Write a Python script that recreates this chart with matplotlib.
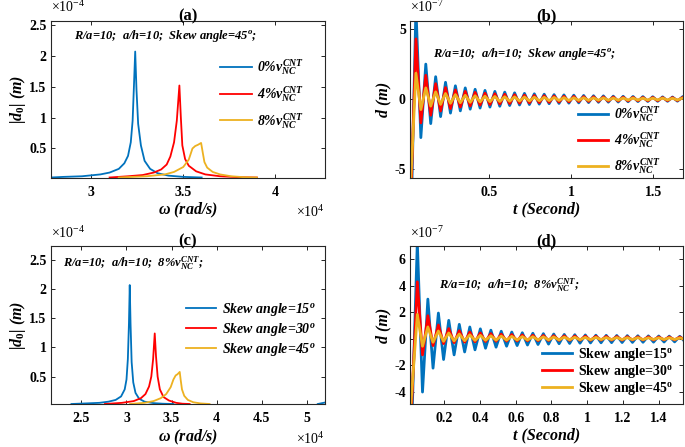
import matplotlib
matplotlib.use("Agg")
import matplotlib.pyplot as plt

plt.rcParams["font.family"] = ["Liberation Serif", "DejaVu Serif"]
plt.rcParams["font.weight"] = "bold"
plt.rcParams["mathtext.fontset"] = "custom"
plt.rcParams["mathtext.rm"] = "Liberation Serif:bold"
plt.rcParams["mathtext.it"] = "Liberation Serif:italic:bold"
plt.rcParams["mathtext.bf"] = "Liberation Serif:bold"

BLUE = "#0072BD"
RED = "#FF0000"
YELLOW = "#EDB120"

# ---- (a) frequency response, CNT fraction (omega in 1e4 rad/s, |d0| in 1e-4 m) ----
w_a0 = [2.78, 2.85, 2.95, 3.05, 3.1, 3.15, 3.18, 3.2, 3.215, 3.225, 3.232, 3.239,
        3.246, 3.255, 3.27, 3.29, 3.32, 3.36, 3.42, 3.5, 3.6]
d_a0 = [0.03, 0.04, 0.05, 0.08, 0.11, 0.17, 0.26, 0.38, 0.6, 0.95, 1.5, 2.07,
        1.45, 0.9, 0.55, 0.3, 0.17, 0.1, 0.06, 0.04, 0.03]
w_a4 = [3.1, 3.2, 3.28, 3.34, 3.38, 3.41, 3.43, 3.45, 3.465, 3.479, 3.487, 3.495,
        3.51, 3.53, 3.57, 3.62, 3.7, 3.8, 3.9]
d_a4 = [0.03, 0.05, 0.07, 0.11, 0.16, 0.24, 0.37, 0.6, 0.95, 1.52, 1.0, 0.55,
        0.33, 0.22, 0.13, 0.08, 0.05, 0.035, 0.03]
w_a8 = [3.15, 3.3, 3.4, 3.45, 3.5, 3.53, 3.55, 3.565, 3.58, 3.597, 3.605, 3.615,
        3.63, 3.66, 3.7, 3.76, 3.83, 3.9]
d_a8 = [0.03, 0.05, 0.08, 0.12, 0.2, 0.32, 0.5, 0.54, 0.56, 0.59, 0.45, 0.28,
        0.19, 0.12, 0.08, 0.05, 0.035, 0.03]

# ---- (c) frequency response, skew angle ----
w_c15 = [2.39, 2.55, 2.7, 2.8, 2.88, 2.94, 2.98, 3.0, 3.015, 3.027, 3.036, 3.045,
         3.057, 3.075, 3.1, 3.14, 3.2, 3.3, 3.4, 3.52]
d_c15 = [0.03, 0.04, 0.05, 0.07, 0.1, 0.16, 0.28, 0.45, 0.8, 1.4, 2.07, 1.4,
         0.75, 0.4, 0.22, 0.12, 0.07, 0.045, 0.035, 0.03]
w_c15_hi = [5.12, 5.2]
d_c15_hi = [0.03, 0.055]
w_c30 = [2.76, 2.95, 3.08, 3.16, 3.21, 3.25, 3.275, 3.295, 3.313, 3.327, 3.345,
         3.37, 3.41, 3.47, 3.55, 3.62, 3.7]
d_c30 = [0.03, 0.05, 0.08, 0.13, 0.2, 0.33, 0.5, 0.8, 1.24, 0.85, 0.5,
         0.28, 0.15, 0.09, 0.05, 0.035, 0.03]
w_c45 = [3.04, 3.2, 3.3, 3.38, 3.44, 3.49, 3.52, 3.545, 3.565, 3.59, 3.6, 3.615,
         3.64, 3.68, 3.74, 3.82, 3.92]
d_c45 = [0.03, 0.05, 0.08, 0.13, 0.2, 0.32, 0.45, 0.52, 0.54, 0.58, 0.45, 0.28,
         0.17, 0.1, 0.06, 0.04, 0.03]

# ---- (b) time history, CNT fraction (d in 1e-7 m): start, peaks, troughs ----
t_b_start = 0.02
t_b_peak = [0.056, 0.116, 0.176, 0.236, 0.296, 0.356, 0.416, 0.476, 0.536, 0.596,
            0.656, 0.716, 0.776, 0.836, 0.896, 0.956, 1.016, 1.076, 1.136, 1.196,
            1.256, 1.316, 1.376, 1.436, 1.496, 1.556, 1.616, 1.676]
t_b_trough = [0.086, 0.146, 0.206, 0.266, 0.326, 0.386, 0.446, 0.506, 0.566, 0.626,
              0.686, 0.746, 0.806, 0.866, 0.926, 0.986, 1.046, 1.106, 1.166, 1.226,
              1.286, 1.346, 1.406, 1.466, 1.526, 1.586, 1.646]
b0_start = -12.0
b0_peak = [6.5, 2.5, 1.6, 1.2, 0.95, 0.8, 0.7, 0.62, 0.55, 0.5, 0.45, 0.41, 0.38, 0.35,
           0.32, 0.3, 0.28, 0.26, 0.24, 0.23, 0.21, 0.2, 0.19, 0.18, 0.17, 0.16, 0.15, 0.15]
b0_trough = [-2.75, -1.75, -1.25, -1.0, -0.84, -0.72, -0.64, -0.57, -0.51, -0.46, -0.42,
             -0.39, -0.36, -0.33, -0.31, -0.29, -0.27, -0.25, -0.23, -0.22, -0.21, -0.19,
             -0.18, -0.17, -0.16, -0.16, -0.15]
b4_start = -9.0
b4_peak = [4.3, 1.7, 1.1, 0.82, 0.65, 0.55, 0.48, 0.42, 0.38, 0.34, 0.31, 0.28, 0.26, 0.24,
           0.22, 0.2, 0.19, 0.18, 0.17, 0.16, 0.15, 0.14, 0.13, 0.12, 0.12, 0.11, 0.11, 0.1]
b4_trough = [-1.7, -1.15, -0.85, -0.68, -0.57, -0.49, -0.43, -0.39, -0.35, -0.32, -0.29,
             -0.27, -0.25, -0.23, -0.21, -0.2, -0.18, -0.17, -0.16, -0.15, -0.14, -0.13,
             -0.12, -0.12, -0.11, -0.11, -0.1]
b8_start = -7.0
b8_peak = [1.85, 0.8, 0.52, 0.4, 0.32, 0.27, 0.24, 0.21, 0.19, 0.17, 0.16, 0.15, 0.14, 0.13,
           0.12, 0.11, 0.1, 0.1, 0.09, 0.09, 0.08, 0.08, 0.08, 0.07, 0.07, 0.07, 0.06, 0.06]
b8_trough = [-0.75, -0.5, -0.38, -0.3, -0.26, -0.23, -0.2, -0.18, -0.17, -0.15, -0.14,
             -0.13, -0.12, -0.11, -0.1, -0.1, -0.09, -0.09, -0.08, -0.08, -0.08, -0.07,
             -0.07, -0.07, -0.06, -0.06, -0.06]

# ---- (d) time history, skew angle ----
t_d_start = 0.01
t_d_peak = [0.049, 0.108, 0.167, 0.225, 0.284, 0.343, 0.402, 0.461, 0.519, 0.578,
            0.637, 0.696, 0.755, 0.813, 0.872, 0.931, 0.990, 1.049, 1.107, 1.166,
            1.225, 1.284, 1.343, 1.401, 1.460, 1.519, 1.578]
t_d_trough = [0.078, 0.137, 0.196, 0.255, 0.314, 0.372, 0.431, 0.490, 0.549, 0.608,
              0.666, 0.725, 0.784, 0.843, 0.902, 0.960, 1.019, 1.078, 1.137, 1.196,
              1.254, 1.313, 1.372, 1.431, 1.490, 1.548]
d15_start = -10.0
d15_peak = [7.3, 3.0, 1.95, 1.4, 1.1, 0.9, 0.76, 0.66, 0.58, 0.52, 0.47, 0.43, 0.4, 0.37,
            0.34, 0.32, 0.3, 0.28, 0.27, 0.26, 0.25, 0.24, 0.23, 0.22, 0.21, 0.2, 0.2]
d15_trough = [-4.0, -2.2, -1.55, -1.2, -0.98, -0.82, -0.7, -0.62, -0.55, -0.5, -0.46,
              -0.42, -0.39, -0.36, -0.34, -0.32, -0.3, -0.29, -0.28, -0.27, -0.26,
              -0.25, -0.24, -0.23, -0.22, -0.21]
d30_start = -7.0
d30_peak = [4.3, 1.75, 1.05, 0.78, 0.62, 0.52, 0.45, 0.4, 0.36, 0.33, 0.3, 0.28, 0.26, 0.24,
            0.23, 0.22, 0.21, 0.2, 0.19, 0.18, 0.17, 0.16, 0.16, 0.15, 0.15, 0.14, 0.14]
d30_trough = [-1.2, -0.5, -0.35, -0.28, -0.24, -0.21, -0.19, -0.17, -0.16, -0.15, -0.14,
              -0.13, -0.12, -0.11, -0.11, -0.1, -0.1, -0.09, -0.09, -0.09, -0.08, -0.08,
              -0.08, -0.07, -0.07, -0.07]
d45_start = -5.5
d45_peak = [1.85, 0.9, 0.6, 0.45, 0.37, 0.31, 0.27, 0.24, 0.22, 0.2, 0.18, 0.17, 0.16, 0.15,
            0.14, 0.13, 0.12, 0.12, 0.11, 0.11, 0.1, 0.1, 0.09, 0.09, 0.09, 0.08, 0.08]
d45_trough = [-0.55, -0.25, -0.18, -0.15, -0.13, -0.11, -0.1, -0.09, -0.09, -0.08, -0.08,
              -0.07, -0.07, -0.07, -0.06, -0.06, -0.06, -0.05, -0.05, -0.05, -0.05, -0.05,
              -0.04, -0.04, -0.04, -0.04]

cnt_labels = ["0%$v_{NC}^{CNT}$", "4%$v_{NC}^{CNT}$", "8%$v_{NC}^{CNT}$"]
skew_labels = ["15", "30", "45"]


def zigzag(t0, v0, tp, vp, tt, vt):
    # join start value, then alternate peak / trough points
    t, v = [t0], [v0]
    for i in range(len(tp)):
        t.append(tp[i])
        v.append(vp[i])
        if i < len(tt):
            t.append(tt[i])
            v.append(vt[i])
    return t, v


def style_axes(ax, xlim, ylim, xticks, yticks, xticklabels, yticklabels):
    ax.set_xlim(*xlim)
    ax.set_ylim(*ylim)
    ax.set_xticks(xticks)
    ax.set_xticklabels(xticklabels)
    ax.set_yticks(yticks)
    ax.set_yticklabels(yticklabels)
    ax.tick_params(direction="in", top=True, right=True, length=3, width=0.6,
                   labelsize=10)
    ax.tick_params(axis="x", pad=6)
    ax.tick_params(axis="y", pad=3)
    for s in ax.spines.values():
        s.set_linewidth(0.8)
        s.set_color("#262626")


fig = plt.figure(figsize=(6.85, 4.47), dpi=100)
W, H = 685.0, 447.0


def add_ax(l, r, t, b):
    return fig.add_axes([l / W, 1 - b / H, (r - l) / W, (b - t) / H])


ax_a = add_ax(50.7, 325, 20.7, 177.5)
ax_b = add_ax(410, 683, 20.7, 177.5)
ax_c = add_ax(50.7, 325, 246, 404)
ax_d = add_ax(410, 683, 246, 404)

lbl_font = dict(fontsize=11.5, fontstyle="italic", fontweight="bold")
ann_font = dict(fontsize=9, fontstyle="italic", fontweight="bold")
exp_font = dict(fontsize=10, fontweight="normal")
leg_kw = dict(loc="upper left", frameon=False, borderpad=0, borderaxespad=0,
              handletextpad=0.4)

yt_d0 = [0.5, 1, 1.5, 2, 2.5]
yt_d0_lab = ["0.5", "1", "1.5", "2", "2.5"]

# (a)
ax_a.plot(w_a0, d_a0, color=BLUE, lw=1.3, label=cnt_labels[0])
ax_a.plot(w_a4, d_a4, color=RED, lw=1.3, label=cnt_labels[1])
ax_a.plot(w_a8, d_a8, color=YELLOW, lw=1.3, label=cnt_labels[2])
style_axes(ax_a, (2.78, 4.27), (0.03, 2.57), [3, 3.5, 4], yt_d0,
           ["3", "3.5", "4"], yt_d0_lab)
ax_a.legend(bbox_to_anchor=(0.617, 0.765), handlelength=2.3, labelspacing=0.5,
            prop=dict(size=10, style="italic", weight="bold"), **leg_kw)
ax_a.text(0.085, 0.9, "R/a=10;  a/h=10;  Skew angle=45$^o$;", transform=ax_a.transAxes,
          va="center", **ann_font)

# (b)
for t0, v0, vp, vt, c, lab in [(t_b_start, b0_start, b0_peak, b0_trough, BLUE, cnt_labels[0]),
                               (t_b_start, b4_start, b4_peak, b4_trough, RED, cnt_labels[1]),
                               (t_b_start, b8_start, b8_peak, b8_trough, YELLOW, cnt_labels[2])]:
    tt, vv = zigzag(t0, v0, t_b_peak, vp, t_b_trough, vt)
    ax_b.plot(tt, vv, color=c, lw=2.0, label=lab)
style_axes(ax_b, (0.02, 1.68), (-5.6, 5.6), [0.5, 1, 1.5], [-5, 0, 5],
           ["0.5", "1", "1.5"], ["-5", "0", "5"])
ax_b.legend(bbox_to_anchor=(0.614, 0.465), handlelength=2.2, labelspacing=0.45,
            prop=dict(size=10, style="italic", weight="bold"), **leg_kw)
ax_b.text(0.085, 0.79, "R/a=10;  a/h=10;  Skew angle=45$^o$;", transform=ax_b.transAxes,
          va="center", **ann_font)

# (c)
ax_c.plot(w_c15, d_c15, color=BLUE, lw=1.3, label="Skew angle=" + skew_labels[0] + "$^o$")
ax_c.plot(w_c15_hi, d_c15_hi, color=BLUE, lw=1.3)
ax_c.plot(w_c30, d_c30, color=RED, lw=1.3, label="Skew angle=" + skew_labels[1] + "$^o$")
ax_c.plot(w_c45, d_c45, color=YELLOW, lw=1.3, label="Skew angle=" + skew_labels[2] + "$^o$")
style_axes(ax_c, (2.16, 5.2), (0.03, 2.74), [2.5, 3, 3.5, 4, 4.5, 5], yt_d0,
           ["2.5", "3", "3.5", "4", "4.5", "5"], yt_d0_lab)
ax_c.legend(bbox_to_anchor=(0.492, 0.655), handlelength=2.2, labelspacing=0.22,
            prop=dict(size=10, style="italic", weight="bold"), **leg_kw)
ax_c.text(0.046, 0.888, "R/a=10;  a/h=10;  8%$v_{NC}^{CNT}$;", transform=ax_c.transAxes,
          va="center", **ann_font)

# (d)
for t0, v0, vp, vt, c, lab in [(t_d_start, d15_start, d15_peak, d15_trough, BLUE, skew_labels[0]),
                               (t_d_start, d30_start, d30_peak, d30_trough, RED, skew_labels[1]),
                               (t_d_start, d45_start, d45_peak, d45_trough, YELLOW, skew_labels[2])]:
    tt, vv = zigzag(t0, v0, t_d_peak, vp, t_d_trough, vt)
    ax_d.plot(tt, vv, color=c, lw=2.0, label="Skew angle=" + lab + r"$^{\mathrm{o}}$")
style_axes(ax_d, (0.008, 1.537), (-4.9, 7.0), [0.2, 0.4, 0.6, 0.8, 1, 1.2, 1.4],
           [-4, -2, 0, 2, 4, 6], ["0.2", "0.4", "0.6", "0.8", "1", "1.2", "1.4"],
           ["-4", "-2", "0", "2", "4", "6"])
ax_d.legend(bbox_to_anchor=(0.482, 0.365), handlelength=2.2, labelspacing=0.0,
            prop=dict(size=10, weight="bold"), **leg_kw)
ax_d.text(0.107, 0.75, "R/a=10;  a/h=10;  8%$v_{NC}^{CNT}$;", transform=ax_d.transAxes,
          va="center", **ann_font)

# titles, labels, exponent texts
for ax, title in [(ax_a, "(a)"), (ax_b, "(b)"), (ax_c, "(c)"), (ax_d, "(d)")]:
    ax.set_title(title, fontsize=12, fontweight="bold", pad=0.5)

for ax in (ax_a, ax_c):
    ax.set_xlabel("$\\omega$ (rad/s)", labelpad=1.5, **lbl_font)
    ax.set_ylabel("|$d_{\\mathit{0}}$| (m)", labelpad=1, **lbl_font)
    ax.text(1.0, -0.22, "×10$^{\\mathregular{4}}$", transform=ax.transAxes, ha="right",
            va="center", **exp_font)
    ax.text(0.0, 1.085, "×10$^{\\mathregular{-4}}$", transform=ax.transAxes, ha="left",
            va="center", **exp_font)
for ax in (ax_b, ax_d):
    ax.set_xlabel("t (Second)", labelpad=1.5, **lbl_font)
    ax.set_ylabel("d (m)", labelpad=2, **lbl_font)
    ax.text(0.0, 1.085, "×10$^{\\mathregular{-7}}$", transform=ax.transAxes, ha="left",
            va="center", **exp_font)

fig.savefig("out.png", dpi=100)
